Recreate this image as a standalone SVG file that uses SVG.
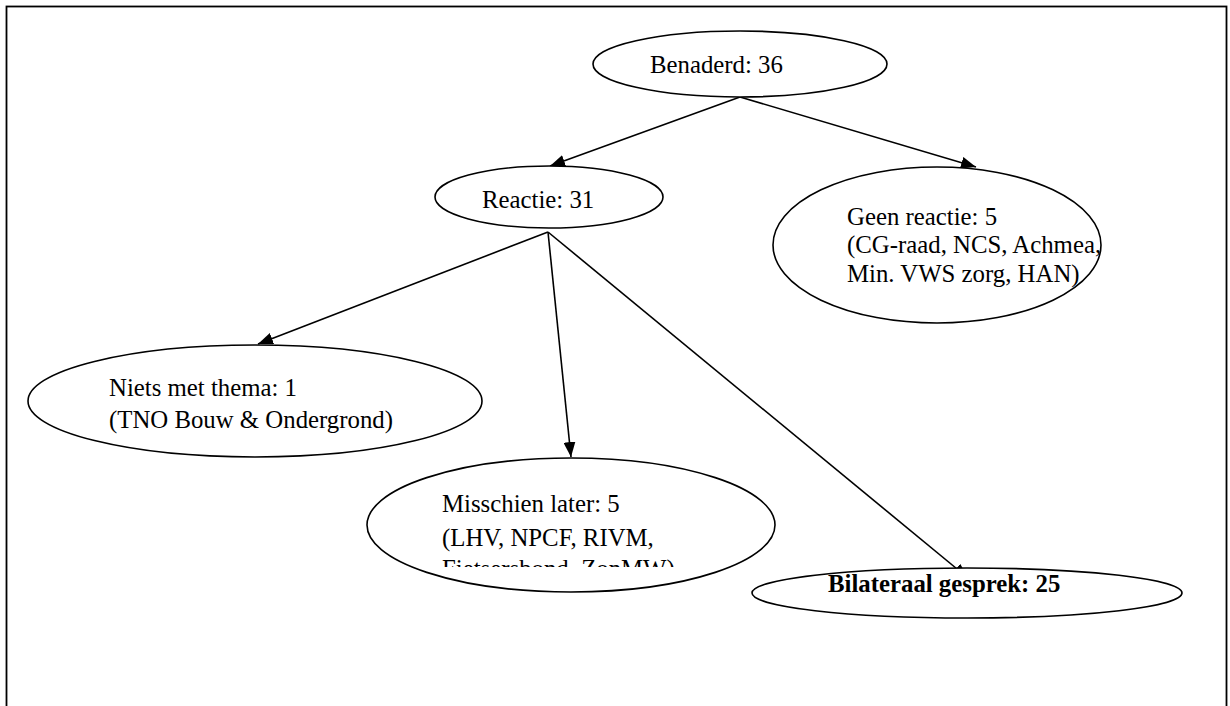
<svg xmlns="http://www.w3.org/2000/svg" width="1230" height="706" viewBox="0 0 1230 706">
<style>
.n{fill:#fff;stroke:#000;stroke-width:1.6}
.t{font-family:"Liberation Serif","Times New Roman",serif;font-size:24.8px;fill:#000}
.b{font-weight:bold}
.c{stroke:#000;stroke-width:1.6;fill:none}
</style>
<defs>
<marker id="ah" markerUnits="userSpaceOnUse" markerWidth="16" markerHeight="12" refX="15" refY="6" orient="auto">
<path d="M0,0 L15,6 L0,12 Z" fill="#000"/>
</marker>
<clipPath id="mclip"><rect x="360" y="440" width="420" height="127"/></clipPath>
</defs>
<rect x="0" y="0" width="1230" height="706" fill="#fff"/>
<rect x="6.5" y="6.5" width="1220" height="730" fill="none" stroke="#000" stroke-width="1.8"/>
<g id="connectors">
<line class="c" x1="740" y1="97" x2="550" y2="166" marker-end="url(#ah)"/>
<line class="c" x1="740" y1="97" x2="976" y2="167" marker-end="url(#ah)"/>
<line class="c" x1="548" y1="232" x2="258" y2="344" marker-end="url(#ah)"/>
<line class="c" x1="548" y1="232" x2="571" y2="457" marker-end="url(#ah)"/>
<line class="c" x1="548" y1="232" x2="968" y2="578" marker-end="url(#ah)"/>
</g>
<g id="benaderd">
<ellipse class="n" cx="740" cy="64" rx="147" ry="33"/>
<text class="t" x="650" y="73">Benaderd: 36</text>
</g>
<g id="reactie">
<ellipse class="n" cx="549" cy="197" rx="114" ry="31"/>
<text class="t" x="482" y="208">Reactie: 31</text>
</g>
<g id="geen-reactie">
<ellipse class="n" cx="937" cy="245" rx="164" ry="78"/>
<text class="t" x="847" y="225">Geen reactie: 5</text>
<text class="t" x="847" y="253">(CG-raad, NCS, Achmea,</text>
<text class="t" x="847" y="282">Min. VWS zorg, HAN)</text>
</g>
<g id="niets-met-thema">
<ellipse class="n" cx="255" cy="401" rx="227" ry="56"/>
<text class="t" x="109" y="396">Niets met thema: 1</text>
<text class="t" x="109" y="428">(TNO Bouw &amp; Ondergrond)</text>
</g>
<g id="misschien-later">
<ellipse class="n" cx="571" cy="525" rx="204" ry="67"/>
<g clip-path="url(#mclip)">
<text class="t" x="442" y="512">Misschien later: 5</text>
<text class="t" x="442" y="546">(LHV, NPCF, RIVM,</text>
<text class="t" x="442" y="577">Fietsersbond, ZonMW)</text>
</g>
</g>
<g id="bilateraal-gesprek">
<ellipse class="n" cx="967" cy="593" rx="215" ry="25"/>
<text class="t b" x="828" y="592">Bilateraal gesprek: 25</text>
</g>
</svg>
